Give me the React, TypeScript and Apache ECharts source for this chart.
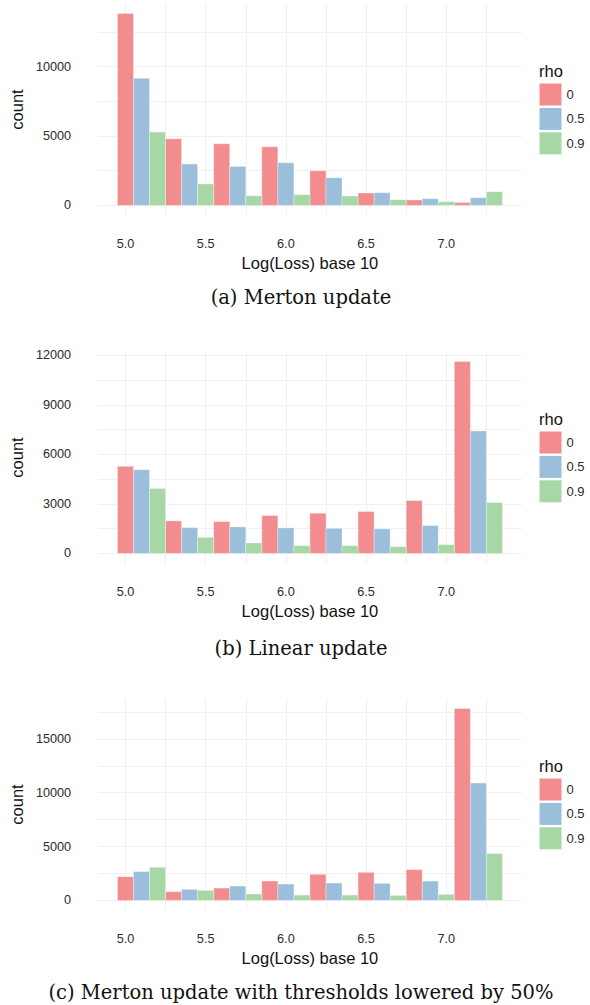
import React, { useEffect, useRef } from "react";
import * as echarts from "echarts";

// ---- data ----
const binCenters = [5.1, 5.4, 5.7, 6.0, 6.3, 6.6, 6.9, 7.2];
const binWidth = 0.3;
const rhoLevels = ["0", "0.5", "0.9"];
const rhoColors = ["#F28C8E", "#9BBEDB", "#A6D7A4"];

const mertonRho0 = [13833, 4805, 4445, 4229, 2500, 893, 389, 216];
const mertonRho05 = [9179, 2983, 2810, 3076, 1996, 915, 483, 555];
const mertonRho09 = [5288, 1542, 699, 771, 677, 411, 267, 987];

const linearRho0 = [5276, 1972, 1929, 2294, 2434, 2538, 3207, 11623];
const linearRho05 = [5075, 1564, 1606, 1546, 1521, 1485, 1686, 7424];
const linearRho09 = [3937, 974, 633, 469, 469, 408, 529, 3085];

const loweredRho0 = [2207, 810, 1145, 1797, 2421, 2607, 2858, 17812];
const loweredRho05 = [2672, 1024, 1331, 1518, 1611, 1583, 1797, 10894];
const loweredRho09 = [3073, 931, 587, 494, 494, 466, 559, 4348];

const xTickLabels = [5.0, 5.5, 6.0, 6.5, 7.0];
const xGridValues = [5.0, 5.25, 5.5, 5.75, 6.0, 6.25, 6.5, 6.75, 7.0, 7.25];

const mertonYLabels = [0, 5000, 10000];
const mertonYGrid = [0, 2500, 5000, 7500, 10000, 12500];
const linearYLabels = [0, 3000, 6000, 9000, 12000];
const linearYGrid = [0, 1500, 3000, 4500, 6000, 7500, 9000, 10500, 12000];
const loweredYLabels = [0, 5000, 10000, 15000];
const loweredYGrid = [0, 2500, 5000, 7500, 10000, 12500, 15000, 17500];

const captions = [
  "(a) Merton update",
  "(b) Linear update",
  "(c) Merton update with thresholds lowered by 50%",
];

const panels = [
  { series: [mertonRho0, mertonRho05, mertonRho09], yLabels: mertonYLabels, yGrid: mertonYGrid },
  { series: [linearRho0, linearRho05, linearRho09], yLabels: linearYLabels, yGrid: linearYGrid },
  { series: [loweredRho0, loweredRho05, loweredRho09], yLabels: loweredYLabels, yGrid: loweredYGrid },
];

// ---- layout ----
const panelTops = [4, 352, 699];
const captionYs = [297, 648, 992];
const gridLeft = 90.7;
const gridWidth = 431;
const gridHeight = 211;
const SANS = "Liberation Sans";
const SERIF = "DejaVu Serif";
const gridColor = "#F0F0F0";
const tickColor = "#2b2b2b";

export default function App() {
  const ref = useRef<HTMLDivElement>(null);

  useEffect(() => {
    if (!ref.current) return;
    const chart = echarts.init(ref.current, null, { renderer: "svg" });

    const binStart = binCenters[0] - binWidth / 2;
    const binEnd = binCenters[binCenters.length - 1] + binWidth / 2;
    const xPad = 0.05 * (binEnd - binStart);

    const grid: any[] = [];
    const xAxis: any[] = [];
    const yAxis: any[] = [];
    const series: any[] = [];
    const legend: any[] = [];
    const graphic: any[] = [];

    panels.forEach((p, pi) => {
      const top = panelTops[pi];
      grid.push({ left: gridLeft, top, width: gridWidth, height: gridHeight, containLabel: false });
      const ymax = Math.max(...p.series.map((s) => Math.max(...s)));
      xAxis.push({
        type: "value",
        gridIndex: pi,
        min: binStart - xPad,
        max: binEnd + xPad,
        name: "Log(Loss) base 10",
        nameLocation: "middle",
        nameGap: 39,
        nameTextStyle: { fontSize: 16.5, color: "#111", fontFamily: SANS },
        axisLine: { show: false, onZero: false },
        axisTick: { show: false, customValues: xGridValues },
        axisLabel: {
          customValues: xTickLabels,
          formatter: (v: number) => v.toFixed(1),
          margin: 22.5,
          fontSize: 12.7,
          color: tickColor,
          fontFamily: SANS,
        },
        splitLine: { show: true, lineStyle: { color: gridColor, width: 1 } },
      });
      yAxis.push({
        type: "value",
        gridIndex: pi,
        min: -0.05 * ymax,
        max: 1.05 * ymax,
        name: "count",
        nameLocation: "middle",
        nameRotate: 90,
        nameGap: 58,
        nameTextStyle: { fontSize: 16.5, color: "#111", fontFamily: SANS },
        axisLine: { show: false },
        axisTick: { show: false, customValues: p.yGrid },
        axisLabel: {
          customValues: p.yLabels,
          formatter: (v: number) => String(Math.round(v)),
          margin: 27,
          fontSize: 12.7,
          color: tickColor,
          fontFamily: SANS,
        },
        splitLine: { show: true, lineStyle: { color: gridColor, width: 1 } },
      });

      p.series.forEach((vals, g) => {
        series.push({
          type: "custom",
          name: rhoLevels[g],
          xAxisIndex: pi,
          yAxisIndex: pi,
          itemStyle: { color: rhoColors[g] },
          encode: { x: 0, y: 1 },
          data: vals.map((v, i) => [binCenters[i], v]),
          renderItem: (params: any, api: any) => {
            const x0 = api.value(0) - binWidth / 2 + (g * binWidth) / 3;
            const x1 = x0 + binWidth / 3;
            const pTop = api.coord([x0, api.value(1)]);
            const pBot = api.coord([x1, 0]);
            return {
              type: "rect",
              shape: {
                x: pTop[0],
                y: pTop[1],
                width: pBot[0] - pTop[0],
                height: pBot[1] - pTop[1],
              },
              style: {
                fill: rhoColors[g],
                stroke: "rgba(255,255,255,0.55)",
                lineWidth: 0.6,
              },
            };
          },
        });
      });

      legend.push({
        data: rhoLevels,
        orient: "vertical",
        left: 539.5,
        top: top + 79.5,
        itemWidth: 22,
        itemHeight: 22,
        itemGap: 2.4,
        icon: "rect",
        padding: 0,
        selectedMode: false,
        textStyle: { fontSize: 13, color: tickColor, fontFamily: SANS },
      });

      graphic.push({
        type: "text",
        left: 539,
        top: top + 58,
        style: { text: "rho", fontSize: 16.5, fill: "#111", fontFamily: SANS },
      });
      graphic.push({
        type: "text",
        x: 301,
        y: captionYs[pi],
        style: {
          text: captions[pi],
          fontSize: 19.5,
          fill: "#111",
          fontFamily: SERIF,
          align: "center",
          verticalAlign: "middle",
        },
      });
    });

    chart.setOption({
      animation: false,
      backgroundColor: "#ffffff",
      grid,
      xAxis,
      yAxis,
      series,
      legend,
      graphic,
    });

    return () => chart.dispose();
  }, []);

  return (
    <div
      ref={ref}
      style={{ position: "absolute", left: 0, top: 0, width: 590, height: 1005 }}
    />
  );
}
